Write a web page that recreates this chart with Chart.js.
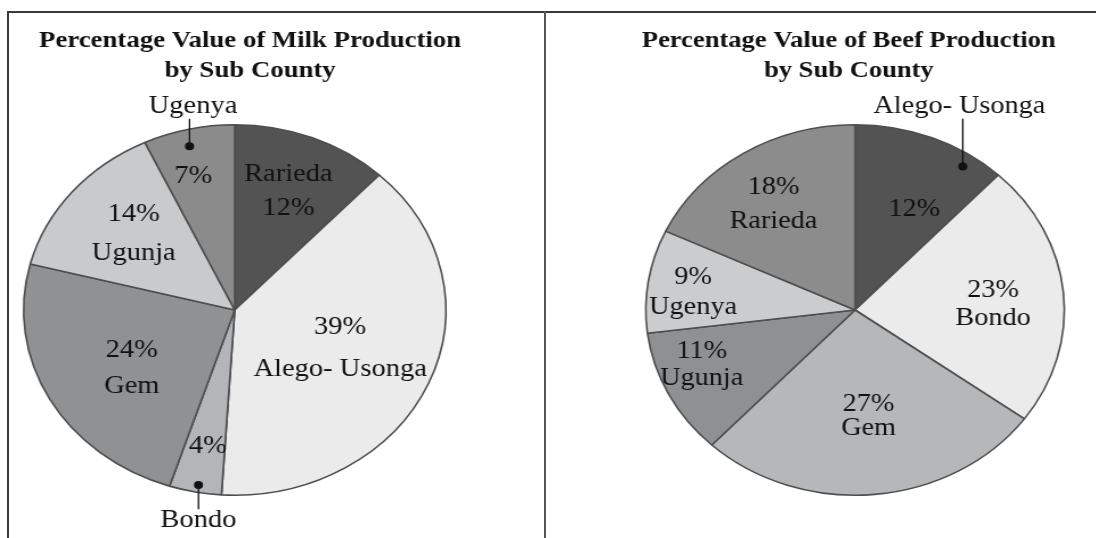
<!DOCTYPE html>
<html>
<head>
<meta charset="utf-8">
<title>Milk and Beef Production by Sub County</title>
<script src="https://cdn.jsdelivr.net/npm/chart.js@4.4.0/dist/chart.umd.min.js"></script>
<style>
    html, body { margin: 0; padding: 0; background: #fff; }
    body { width: 1096px; height: 538px; position: relative; overflow: hidden; }
    .frame-top { position: absolute; left: 7px; top: 11px; width: 1089px; height: 0; border-top: 2px solid #3a3a3a; }
    .frame-left { position: absolute; left: 7px; top: 11px; width: 0; height: 527px; border-left: 2px solid #3a3a3a; }
    .frame-mid { position: absolute; left: 544px; top: 11px; width: 0; height: 527px; border-left: 2px solid #555; }
    /* the source picture is stretched sideways, so each panel is scaled on x */
    .panel { position: absolute; top: 0; height: 538px; transform-origin: 0 0; }
    #milk-panel { left: 9px; width: 471px; transform: scaleX(1.14); }
    #beef-panel { left: 546px; width: 482px; transform: scaleX(1.13); }
</style>
</head>
<body>
<div class="frame-top"></div>
<div class="frame-left"></div>
<div class="frame-mid"></div>
<div class="panel" id="milk-panel"><canvas id="milk-chart"></canvas></div>
<div class="panel" id="beef-panel"><canvas id="beef-chart"></canvas></div>

<script>
// chart data
const milk_title = ['Percentage Value of Milk Production', 'by Sub County'];
const milk_labels = ['Rarieda', 'Alego- Usonga', 'Bondo', 'Gem', 'Ugunja', 'Ugenya'];
const milk_values = [12, 39, 4, 24, 14, 7];

const beef_title = ['Percentage Value of Beef Production', 'by Sub County'];
const beef_labels = ['Alego- Usonga', 'Bondo', 'Gem', 'Ugunja', 'Ugenya', 'Rarieda'];
const beef_values = [12, 23, 27, 11, 9, 18];

// slice colours
const milk_colors = ['#535353', '#ebebeb', '#b3b5b8', '#909193', '#c9cacc', '#8b8b8b'];
const beef_colors = ['#535353', '#ebebeb', '#b5b7b9', '#8f9092', '#cbcccd', '#8c8c8c'];

// where each slice's text sits: fraction of radius, turn in degrees, line gap
const milk_layout = [
    { pos: 0.69, turn: 0, gap: 34, nameFirst: true },
    { pos: 0.54, turn: -1, gap: 42 },
    { pos: 0.75, turn: -1, callout: { pos: 0.96, turn: -0.5, below: true, shift: 0 } },
    { pos: 0.58, turn: -4, gap: 36 },
    { pos: 0.63, turn: 1, gap: 39 },
    { pos: 0.75, turn: -2.6, callout: { pos: 0.91, turn: -1, below: false, shift: 3 } }
];
const beef_layout = [
    { pos: 0.61, turn: 6, callout: { pos: 0.93, turn: 12, below: false, shift: -3 } },
    { pos: 0.66, turn: 3, gap: 28 },
    { pos: 0.58, turn: -1, gap: 24 },
    { pos: 0.79, turn: 5, gap: 27 },
    { pos: 0.78, turn: -2, gap: 30 },
    { pos: 0.69, turn: -2, gap: 34 }
];

// plugin that writes the titles, slice labels and callouts
const pie_text = {
    id: 'pieText',
    afterDatasetsDraw(chart, args, opts) {
        const ctx = chart.ctx;
        const arcs = chart.getDatasetMeta(0).data;
        const values = chart.data.datasets[0].data;
        const names = chart.data.labels;
        ctx.save();
        ctx.fillStyle = '#111';
        ctx.strokeStyle = '#111';
        ctx.textAlign = 'center';
        ctx.textBaseline = 'middle';
        arcs.forEach(function(arc, i) {
            const p = arc.getProps(['x', 'y', 'startAngle', 'endAngle', 'outerRadius'], true);
            const lay = opts.layout[i];
            const mid = (p.startAngle + p.endAngle) / 2;
            const a = mid + lay.turn * Math.PI / 180;
            const bx = p.x + Math.cos(a) * p.outerRadius * lay.pos;
            const by = p.y + Math.sin(a) * p.outerRadius * lay.pos;
            const pct = values[i] + '%';
            let lines;
            if (lay.callout) lines = [pct];
            else if (lay.nameFirst) lines = [names[i], pct];
            else lines = [pct, names[i]];
            ctx.font = opts.font;
            lines.forEach(function(t, k) {
                ctx.fillText(t, bx, by + (k - (lines.length - 1) / 2) * (lay.gap || 0));
            });
            if (lay.callout) {
                const c = lay.callout;
                const ca = mid + c.turn * Math.PI / 180;
                const dx = p.x + Math.cos(ca) * p.outerRadius * c.pos;
                const dy = p.y + Math.sin(ca) * p.outerRadius * c.pos;
                const side = c.below ? 1 : -1;
                const edge = p.y + side * p.outerRadius;
                const line_end = edge + side * (c.below ? 14 : 6);
                const text_y = edge + side * (c.below ? 25 : 18);
                ctx.lineWidth = 1.3;
                ctx.beginPath();
                ctx.moveTo(dx, dy);
                ctx.lineTo(dx, line_end);
                ctx.stroke();
                ctx.beginPath();
                ctx.arc(dx, dy, 4, 0, Math.PI * 2);
                ctx.fill();
                ctx.fillText(names[i], dx + c.shift, text_y);
            }
        });
        // title
        const area = chart.chartArea;
        const tx = (area.left + area.right) / 2 + opts.titleShift;
        ctx.font = opts.titleFont;
        opts.title.forEach(function(t, k) {
            ctx.fillText(t, tx, opts.titleY + k * opts.titleGap);
        });
        ctx.restore();
    }
};

function make_pie(canvas_id, labels, values, colors, title, layout, padding, title_shift) {
    return new Chart(document.getElementById(canvas_id), {
        type: 'pie',
        data: {
            labels: labels,
            datasets: [{
                data: values,
                backgroundColor: colors,
                borderColor: '#4e4e4e',
                borderWidth: 1.6
            }]
        },
        options: {
            responsive: true,
            maintainAspectRatio: false,
            animation: false,
            events: [],
            layout: { padding: padding },
            plugins: {
                legend: { display: false },
                tooltip: { enabled: false },
                title: { display: false },
                pieText: {
                    layout: layout,
                    font: '25px "Liberation Serif", "Times New Roman", serif',
                    titleFont: 'bold 23.5px "Liberation Serif", "Times New Roman", serif',
                    title: title,
                    titleShift: title_shift,
                    titleY: 41,
                    titleGap: 30
                }
            }
        },
        plugins: [pie_text]
    });
}

make_pie('milk-chart', milk_labels, milk_values, milk_colors, milk_title, milk_layout,
    { top: 124, bottom: 42, left: 0, right: 75 }, 13.5);
make_pie('beef-chart', beef_labels, beef_values, beef_colors, beef_title, beef_layout,
    { top: 124, bottom: 42, left: 65, right: 0 }, -5.5);
</script>
</body>
</html>
